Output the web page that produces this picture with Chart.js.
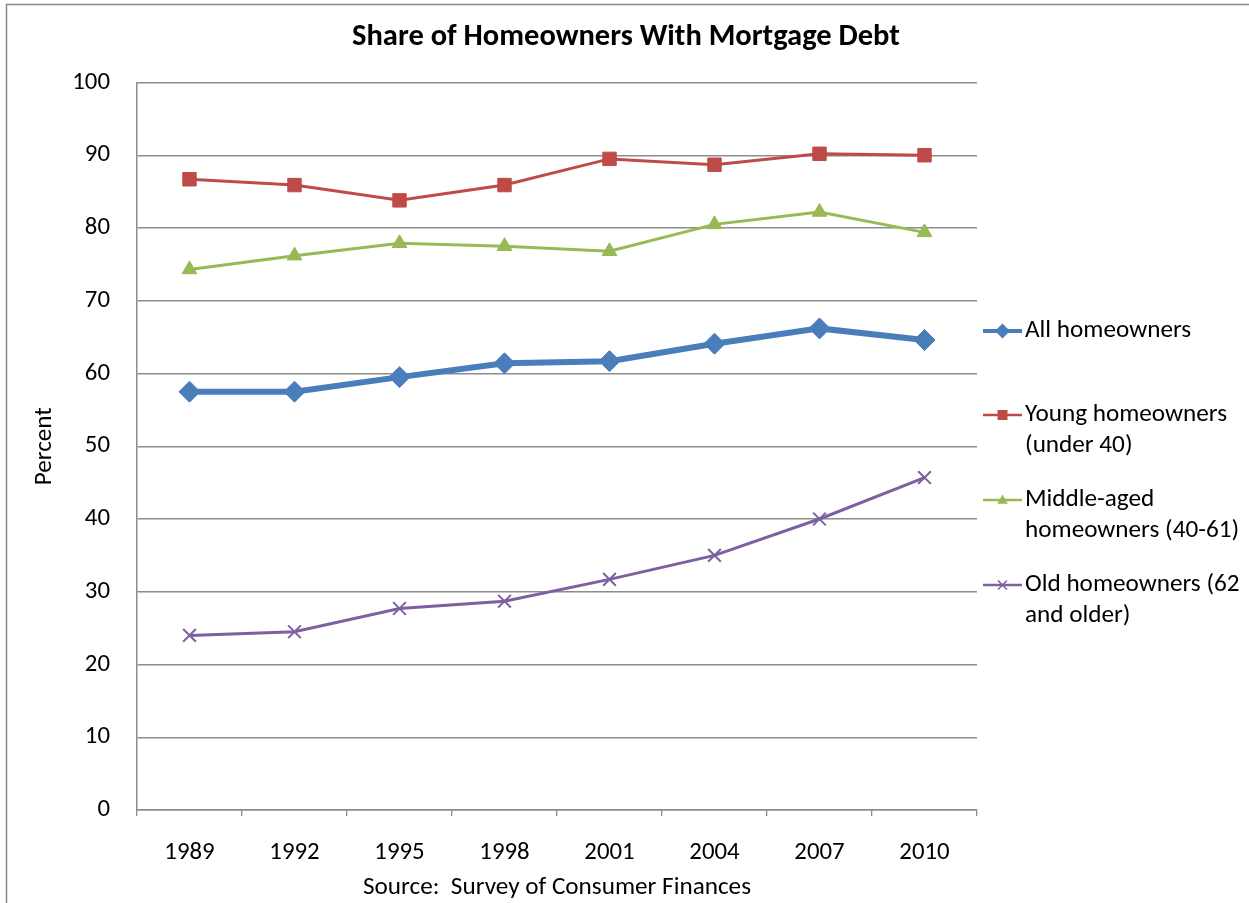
<!DOCTYPE html>
<html>
<head>
<meta charset="utf-8">
<title>Share of Homeowners With Mortgage Debt</title>
<script src="https://cdn.jsdelivr.net/npm/chart.js@4/dist/chart.umd.min.js"></script>
<style>
  html, body { margin: 0; padding: 0; background: #fff; }
  #wrap { width: 1249px; height: 903px; position: relative; }
</style>
</head>
<body>
<div id="wrap"><canvas id="mortgageChart"></canvas></div>
<script>
const years = ["1989", "1992", "1995", "1998", "2001", "2004", "2007", "2010"];

const allOwners    = [57.5, 57.5, 59.5, 61.4, 61.7, 64.1, 66.2, 64.6];
const youngOwners  = [86.7, 85.9, 83.8, 85.9, 89.5, 88.7, 90.2, 90.0];
const middleOwners = [74.3, 76.2, 77.9, 77.5, 76.8, 80.5, 82.2, 79.4];
const oldOwners    = [24.0, 24.5, 27.7, 28.7, 31.7, 35.0, 40.0, 45.7];

const chartTitle = "Share of Homeowners With Mortgage Debt";
const legendLabels = [
  ["All homeowners"],
  ["Young homeowners", "(under 40)"],
  ["Middle-aged", "homeowners (40-61)"],
  ["Old homeowners (62", "and older)"]
];

const FONT = 'Carlito, Lato, "Open Sans", sans-serif';
const TICK_SIZE = 24.8;
const TEXT_SIZE = 25.2;
const GRID = "#8c8c8c";

// white page, grey frame, and the title centred over the whole page
const framePlugin = {
  id: "frame",
  beforeDraw(chart) {
    const ctx = chart.ctx;
    ctx.save();
    ctx.fillStyle = "#fff";
    ctx.fillRect(0, 0, chart.width, chart.height);
    ctx.strokeStyle = "#8a8a8a";
    ctx.lineWidth = 1.5;
    ctx.strokeRect(6.5, 4.5, chart.width + 20, chart.height + 20);
    ctx.fillStyle = "#000";
    ctx.font = "bold 30.5px " + FONT;
    ctx.textAlign = "center";
    ctx.textBaseline = "middle";
    ctx.fillText(chartTitle, 626, 37);
    ctx.restore();
  }
};

function drawMarker(ctx, style, x, y, r) {
  ctx.beginPath();
  if (style === "rectRot") {
    ctx.moveTo(x, y - r); ctx.lineTo(x + r, y); ctx.lineTo(x, y + r); ctx.lineTo(x - r, y);
    ctx.closePath(); ctx.fill();
  } else if (style === "rect") {
    ctx.rect(x - r, y - r, 2 * r, 2 * r); ctx.fill();
  } else if (style === "triangle") {
    ctx.moveTo(x, y - r); ctx.lineTo(x + r * 0.95, y + r * 0.7); ctx.lineTo(x - r * 0.95, y + r * 0.7);
    ctx.closePath(); ctx.fill();
  } else {
    ctx.moveTo(x - r, y - r); ctx.lineTo(x + r, y + r);
    ctx.moveTo(x + r, y - r); ctx.lineTo(x - r, y + r);
    ctx.stroke();
  }
}

// legend on the right, with wrapped labels
const sideLegend = {
  id: "sideLegend",
  afterDraw(chart) {
    const ctx = chart.ctx;
    const rows = [331, 415, 500, 585];
    const sizes = [7.5, 5, 5.5, 4.5];
    ctx.save();
    ctx.font = TEXT_SIZE + "px " + FONT;
    ctx.textBaseline = "middle";
    chart.data.datasets.forEach((ds, i) => {
      const y = rows[i];
      ctx.strokeStyle = ds.borderColor;
      ctx.fillStyle = ds.borderColor;
      ctx.lineWidth = i === 0 ? 4 : 2.5;
      ctx.beginPath();
      ctx.moveTo(983, y); ctx.lineTo(1022, y);
      ctx.stroke();
      ctx.lineWidth = 1.5;
      drawMarker(ctx, ds.pointStyle, 1002.5, y, sizes[i]);
      ctx.fillStyle = "#000";
      legendLabels[i].forEach((line, k) => ctx.fillText(line, 1025, y + k * 31));
    });
    ctx.restore();
  }
};

new Chart(document.getElementById("mortgageChart"), {
  type: "line",
  data: {
    labels: years,
    datasets: [
      {
        label: "All homeowners",
        data: allOwners,
        borderColor: "#4A7EBB",
        backgroundColor: "#4A7EBB",
        borderWidth: 6,
        pointStyle: "rectRot",
        pointRadius: 10.5,
        pointBorderWidth: 1
      },
      {
        label: "Young homeowners (under 40)",
        data: youngOwners,
        borderColor: "#BE4B48",
        backgroundColor: "#BE4B48",
        borderWidth: 3,
        pointStyle: "rect",
        pointRadius: 9.5,
        pointBorderWidth: 1
      },
      {
        label: "Middle-aged homeowners (40-61)",
        data: middleOwners,
        borderColor: "#98B954",
        backgroundColor: "#98B954",
        borderWidth: 3,
        pointStyle: "triangle",
        pointRadius: 8.5,
        pointBorderWidth: 1
      },
      {
        label: "Old homeowners (62 and older)",
        data: oldOwners,
        borderColor: "#7D60A0",
        backgroundColor: "#7D60A0",
        borderWidth: 3,
        pointStyle: "crossRot",
        pointRadius: 9,
        pointBorderWidth: 2
      }
    ]
  },
  options: {
    responsive: true,
    maintainAspectRatio: false,
    animation: false,
    layout: { padding: { left: 8, right: 272, top: 82.5, bottom: 0 } },
    plugins: {
      legend: { display: false },
      tooltip: { enabled: false },
      title: { display: false }
    },
    scales: {
      x: {
        offset: true,
        grid: { offset: true, drawOnChartArea: false, drawTicks: true, tickLength: 6, color: GRID, lineWidth: 1.3 },
        border: { color: GRID, width: 1.5 },
        ticks: { color: "#000", padding: 22, font: { family: FONT, size: TICK_SIZE } },
        title: {
          display: true,
          text: "Source:  Survey of Consumer Finances",
          color: "#000",
          font: { family: FONT, size: TEXT_SIZE },
          padding: { top: 5, bottom: 0 }
        },
        afterFit(scale) { scale.height = 93; }
      },
      y: {
        min: 0,
        max: 100,
        ticks: { stepSize: 10, color: "#000", padding: 27, font: { family: FONT, size: TICK_SIZE } },
        grid: { drawTicks: false, color: GRID, lineWidth: 1.5 },
        border: { color: GRID, width: 1.5 },
        title: {
          display: true,
          text: "Percent",
          color: "#000",
          font: { family: FONT, size: TEXT_SIZE },
          padding: { top: 22, bottom: 0 }
        },
        afterFit(scale) { scale.width = 129; }
      }
    }
  },
  plugins: [framePlugin, sideLegend]
});
</script>
</body>
</html>
